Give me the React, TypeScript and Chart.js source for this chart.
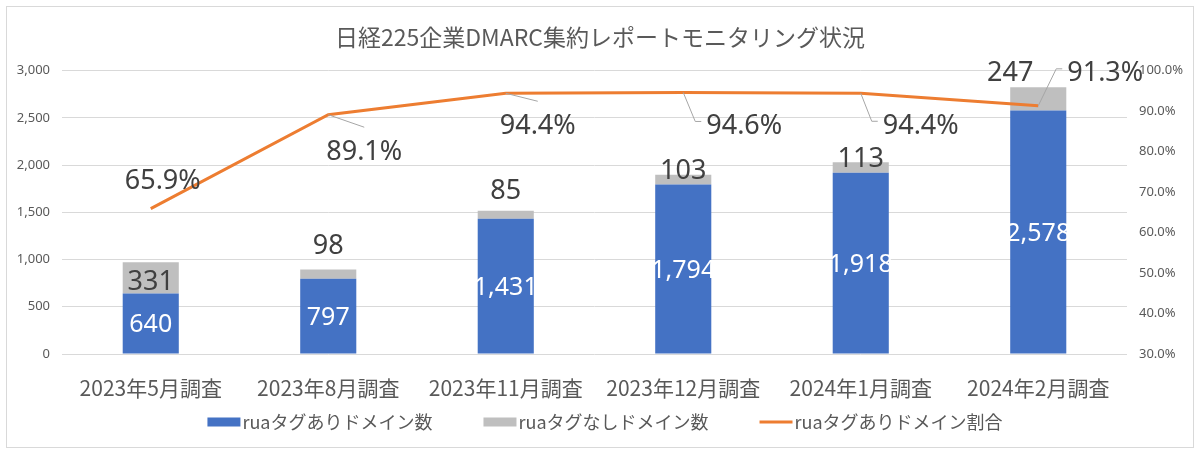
import React, { useEffect, useRef } from 'react';
import { Chart, registerables } from 'chart.js';

Chart.register(...registerables);

const chartTitle = '日経225企業DMARC集約レポートモニタリング状況';
const categories = ['2023年5月調査', '2023年8月調査', '2023年11月調査', '2023年12月調査', '2024年1月調査', '2024年2月調査'];
const withRua = [640, 797, 1431, 1794, 1918, 2578];
const withoutRua = [331, 98, 85, 103, 113, 247];
const ruaRatio = [65.9, 89.1, 94.4, 94.6, 94.4, 91.3];
const seriesNames = ['ruaタグありドメイン数', 'ruaタグなしドメイン数', 'ruaタグありドメイン割合'];
const countAxis = { min: 0, max: 3000, step: 500 };
const ratioAxis = { min: 30, max: 100, step: 10 };

// label placement (styling only)
const grayLabelOffsets = [[0, 18], [0, -25], [0, -21], [0, -5], [0, -5], [-28, -16]];
const ratioLabelOffsets = [[12, -29], [36, 35.5], [32, 31], [61, 32], [60, 31], [67, -34]];
const ratioLeaderKinds = ['none', 'straight', 'straight', 'elbow', 'elbow', 'elbow'];

const JP_FONT = '"Noto Sans CJK JP", "Noto Sans", sans-serif';
const NUM_FONT = '"Noto Sans", "Noto Sans CJK JP", sans-serif';

const BLUE = '#4472C4';
const GRAY = '#BFBFBF';
const ORANGE = '#ED7D31';
const TEXT = '#404040';
const AXIS_TEXT = '#595959';

const labelPlugin = {
  id: 'valueLabels',
  afterDatasetsDraw(chart: any) {
    const ctx = chart.ctx as CanvasRenderingContext2D;
    const metaBlue = chart.getDatasetMeta(0);
    const metaGray = chart.getDatasetMeta(1);
    const metaLine = chart.getDatasetMeta(2);
    ctx.save();
    ctx.textAlign = 'center';
    ctx.textBaseline = 'alphabetic';

    const blueSize = 25;
    ctx.font = `${blueSize}px ${NUM_FONT}`;
    ctx.fillStyle = '#FFFFFF';
    metaBlue.data.forEach((el: any, i: number) => {
      const cy = (el.y + el.base) / 2;
      ctx.fillText(withRua[i].toLocaleString('en-US'), el.x, cy + blueSize * 0.357);
    });

    const graySize = 27;
    ctx.font = `${graySize}px ${NUM_FONT}`;
    ctx.fillStyle = TEXT;
    metaGray.data.forEach((el: any, i: number) => {
      const [dx, dy] = grayLabelOffsets[i];
      ctx.fillText(String(withoutRua[i]), el.x + dx, el.y + dy + graySize * 0.357);
    });

    const pctSize = 27;
    ctx.font = `${pctSize}px ${NUM_FONT}`;
    metaLine.data.forEach((pt: any, i: number) => {
      const [dx, dy] = ratioLabelOffsets[i];
      const cx = pt.x + dx;
      const cy = pt.y + dy;
      const text = ruaRatio[i].toFixed(1) + '%';
      const w = ctx.measureText(text).width;
      const left = cx - w / 2;
      const kind = ratioLeaderKinds[i];
      ctx.strokeStyle = '#A6A6A6';
      ctx.lineWidth = 1;
      if (kind === 'straight') {
        ctx.beginPath();
        ctx.moveTo(pt.x, pt.y);
        ctx.lineTo(cx, cy - 23);
        ctx.stroke();
      } else if (kind === 'elbow') {
        ctx.beginPath();
        ctx.moveTo(pt.x, pt.y);
        ctx.lineTo(left - 11, cy - 3);
        ctx.lineTo(left - 5, cy - 3);
        ctx.stroke();
      }
      ctx.fillStyle = TEXT;
      ctx.fillText(text, cx, cy + pctSize * 0.357);
    });
    ctx.restore();
  },
};

// Excel-style legend: marker, small gap, text; items spaced widely
const legendPlugin = {
  id: 'excelLegend',
  afterDraw(chart: any) {
    const ctx = chart.ctx as CanvasRenderingContext2D;
    const datasets = chart.data.datasets;
    const markerW = 33;
    const markerGap = 2;
    const itemGap = 51;
    const centerX = 598;
    const centerY = 415;
    ctx.save();
    ctx.font = `18px ${JP_FONT}`;
    ctx.textBaseline = 'middle';
    ctx.textAlign = 'left';
    const widths = datasets.map((d: any) => markerW + markerGap + ctx.measureText(d.label).width);
    const total = widths.reduce((a: number, b: number) => a + b, 0) + itemGap * (datasets.length - 1);
    let x = centerX - total / 2;
    datasets.forEach((d: any, i: number) => {
      if (d.type === 'line') {
        ctx.strokeStyle = d.borderColor;
        ctx.lineWidth = 3;
        ctx.beginPath();
        ctx.moveTo(x, centerY);
        ctx.lineTo(x + markerW, centerY);
        ctx.stroke();
      } else {
        ctx.fillStyle = d.backgroundColor;
        ctx.fillRect(x, centerY - 4.5, markerW, 9);
      }
      ctx.fillStyle = AXIS_TEXT;
      ctx.fillText(d.label, x + markerW + markerGap, centerY);
      x += widths[i] + itemGap;
    });
    ctx.restore();
  },
};

export default function App() {
  const canvasRef = useRef<HTMLCanvasElement>(null);

  useEffect(() => {
    if (!canvasRef.current) return;
    Chart.defaults.font.family = NUM_FONT;
    const chart = new Chart(canvasRef.current, {
      type: 'bar',
      data: {
        labels: categories,
        datasets: [
          {
            type: 'bar',
            label: seriesNames[0],
            data: withRua,
            backgroundColor: BLUE,
            yAxisID: 'y',
            stack: 'rua',
            barPercentage: 0.632,
            categoryPercentage: 0.5,
            order: 1,
          },
          {
            type: 'bar',
            label: seriesNames[1],
            data: withoutRua,
            backgroundColor: GRAY,
            yAxisID: 'y',
            stack: 'rua',
            barPercentage: 0.632,
            categoryPercentage: 0.5,
            order: 1,
          },
          {
            type: 'line',
            label: seriesNames[2],
            data: ruaRatio,
            borderColor: ORANGE,
            backgroundColor: ORANGE,
            borderWidth: 3,
            pointRadius: 0,
            pointHoverRadius: 0,
            tension: 0,
            yAxisID: 'y1',
            order: 0,
          },
        ] as any,
      },
      options: {
        animation: false,
        responsive: true,
        maintainAspectRatio: false,
        events: [],
        layout: { padding: { left: 0, right: 0, top: 0, bottom: 43 } },
        plugins: {
          title: {
            display: true,
            text: chartTitle,
            color: AXIS_TEXT,
            font: { size: 23, family: JP_FONT, weight: 'normal' },
            padding: { top: 16, bottom: 20 },
          },
          legend: { display: false },
          tooltip: { enabled: false },
        },
        scales: {
          x: {
            stacked: true,
            grid: { display: false },
            border: { display: false },
            ticks: {
              color: AXIS_TEXT,
              font: { size: 21, family: JP_FONT },
              padding: 13,
              maxRotation: 0,
              autoSkip: false,
            },
            afterFit: (s: any) => {
              s.height = 50;
            },
          },
          y: {
            stacked: true,
            position: 'left',
            min: countAxis.min,
            max: countAxis.max,
            ticks: {
              stepSize: countAxis.step,
              color: AXIS_TEXT,
              font: { size: 13 },
              padding: 12,
              callback: (v: any) => Number(v).toLocaleString('en-US'),
            },
            grid: { color: '#D9D9D9', drawTicks: false, lineWidth: 1 },
            border: { display: false },
            afterFit: (s: any) => {
              s.width = 55;
            },
          },
          y1: {
            position: 'right',
            min: ratioAxis.min,
            max: ratioAxis.max,
            ticks: {
              stepSize: ratioAxis.step,
              color: AXIS_TEXT,
              font: { size: 13 },
              padding: 12,
              callback: (v: any) => Number(v).toFixed(1) + '%',
            },
            grid: { display: false, drawTicks: false },
            border: { display: false },
            afterFit: (s: any) => {
              s.width = 66;
            },
          },
        },
      } as any,
      plugins: [labelPlugin, legendPlugin],
    });
    return () => chart.destroy();
  }, []);

  return (
    <div
      style={{
        position: 'absolute',
        left: 6,
        top: 6,
        width: 1188,
        height: 442,
        border: '1px solid #D9D9D9',
        boxSizing: 'border-box',
        background: '#FFFFFF',
      }}
    >
      <div style={{ position: 'relative', width: 1186, height: 440 }}>
        <canvas ref={canvasRef} />
      </div>
    </div>
  );
}
